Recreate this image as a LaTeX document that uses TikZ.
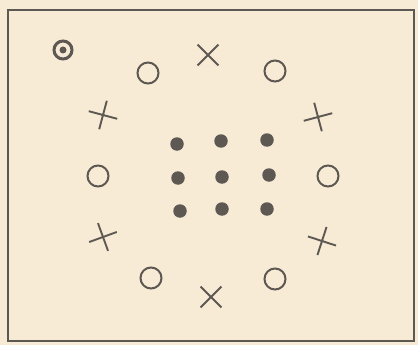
\documentclass[tikz,border=0pt]{standalone}
\usetikzlibrary{shapes.misc}
\definecolor{paper}{HTML}{F7EBD6}
\definecolor{ink}{HTML}{5E5853}
\begin{document}
\begin{tikzpicture}[x=1pt,y=-1pt,
  ring/.style={circle,draw=ink,line width=2pt,minimum size=21pt,inner sep=0pt},
  crs/.style={cross out,draw=ink,line width=1.9pt,minimum size=19pt,inner sep=0pt},
  dotc/.style={circle,fill=ink,minimum size=13.5pt,inner sep=0pt},
  tgt/.style={circle,draw=ink,line width=3pt,minimum size=18pt,inner sep=0pt}]
\fill[paper] (0,0) rectangle (418,345);
\useasboundingbox (0,0) rectangle (418,345);
\draw[ink,line width=2pt] (8,10) rectangle (414,341);
% target
\node[tgt] (t) at (63,50) {};
\node[circle,fill=ink,minimum size=7pt,inner sep=0pt] (tc) at (63,50) {};
% open circles
\node[ring] (o1) at (148,73) {};
\node[ring] (o2) at (275,71) {};
\node[ring] (o3) at (98,176) {};
\node[ring] (o4) at (328,176) {};
\node[ring] (o5) at (151,278) {};
\node[ring] (o6) at (275,279) {};
% crosses
\node[crs,rotate=0] (x1) at (208,55) {};
\node[crs,rotate=30] (x2) at (103,115) {};
\node[crs,rotate=60] (x3) at (318,117) {};
\node[crs,rotate=65] (x4) at (103,237) {};
\node[crs,rotate=27] (x5) at (322,241) {};
\node[crs,rotate=0] (x6) at (211,297) {};
% dots
\node[dotc] (d11) at (177,144) {};
\node[dotc] (d12) at (221,141) {};
\node[dotc] (d13) at (267,140) {};
\node[dotc] (d21) at (178,178) {};
\node[dotc] (d22) at (222,177) {};
\node[dotc] (d23) at (269,175) {};
\node[dotc] (d31) at (180,211) {};
\node[dotc] (d32) at (222,209) {};
\node[dotc] (d33) at (267,209) {};
\end{tikzpicture}
\end{document}
